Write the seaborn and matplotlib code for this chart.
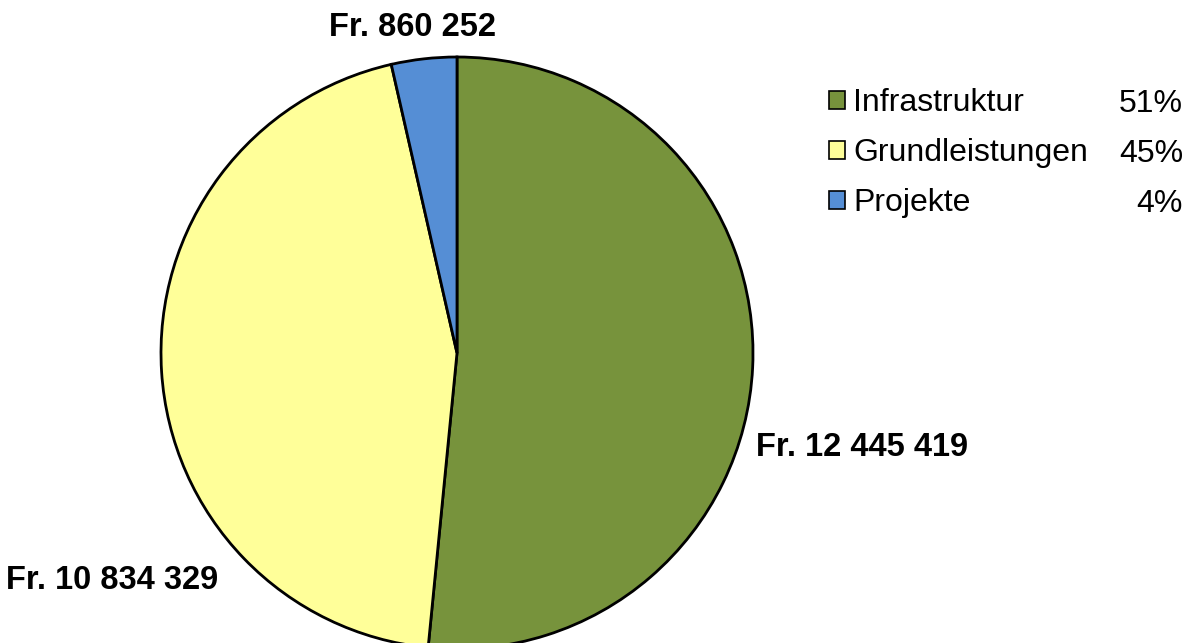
import matplotlib
matplotlib.use("Agg")
import matplotlib.pyplot as plt
import seaborn as sns

categories = ['Infrastruktur', 'Grundleistungen', 'Projekte']
amounts = [12445419, 10834329, 860252]
amount_labels = ['Fr. 12 445 419', 'Fr. 10 834 329', 'Fr. 860 252']
percent_labels = ['51%', '45%', '4%']
colors = ['#77933C', '#FFFF99', '#558ED5']

sns.set_style('white')
plt.rcParams['font.family'] = ['Liberation Sans', 'DejaVu Sans']
plt.rcParams['text.color'] = 'black'

W, H = 1187, 643
cx, cy, r = 457, 353, 296  # pie centre / radius in pixels
fs = 23.5
leg_fs = 23

fig = plt.figure(figsize=(W / 100, H / 100), dpi=100)
ax = fig.add_axes([0, 0, 1, 1])
ax.pie(amounts, colors=colors, startangle=90, counterclock=False, radius=1,
       wedgeprops=dict(edgecolor='black', linewidth=2))
ax.set_xlim(-cx / r, (W - cx) / r)
ax.set_ylim(-(H - cy) / r, cy / r)
ax.set_aspect('auto')
ax.axis('off')

# value labels (data units, radius = 1)
label_pos = [(1.368, -0.318), (-1.166, -0.770), (-0.152, 1.101)]
for (x, y), txt in zip(label_pos, amount_labels):
    ax.text(x, y, txt, ha='center', va='center', fontsize=fs, fontweight='bold')

handles = [plt.Rectangle((0, 0), 1, 1, facecolor=c, edgecolor='black', linewidth=1.2)
           for c in colors]
leg = fig.legend(handles, categories, loc='upper left', bbox_to_anchor=(829 / W, 1 - 88 / H),
                 frameon=False, fontsize=leg_fs, handlelength=0.5, handleheight=0.5,
                 handletextpad=0.25, labelspacing=0.63, borderpad=0, borderaxespad=0)
for t in leg.get_texts():
    t.set_color('black')

row_y = [104, 154, 204]
for y, p in zip(row_y, percent_labels):
    fig.text(1183 / W, 1 - y / H, p, ha='right', va='center', fontsize=leg_fs)

fig.savefig('out.png', dpi=100)
